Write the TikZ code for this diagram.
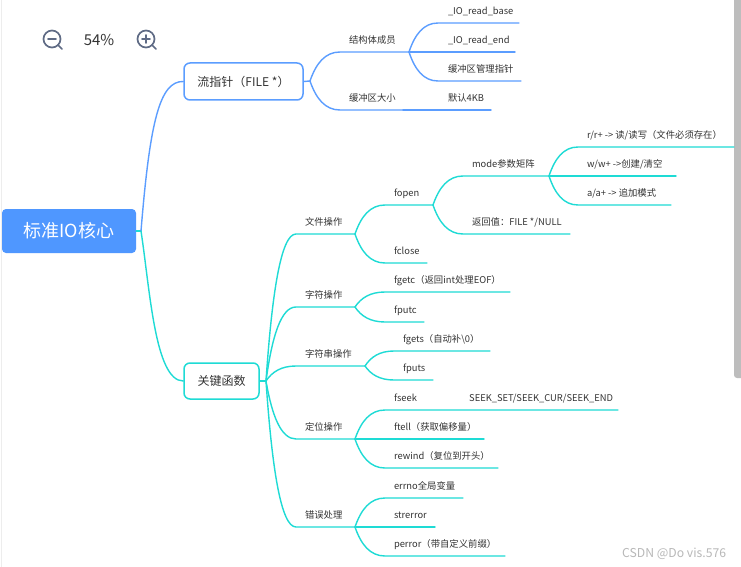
\documentclass[tikz,border=0pt]{standalone}
\usepackage{fontspec}
\setmainfont{Noto Sans CJK SC}
\usetikzlibrary{calc}
\definecolor{bl}{HTML}{5B9DFF}
\definecolor{te}{HTML}{1EDBD5}
\definecolor{rootc}{HTML}{4F97FF}
\definecolor{ink}{HTML}{333333}
\definecolor{icon}{HTML}{5F6B85}
\tikzset{
  x=1pt,y=-1pt,
  conn/.style={line width=1.4pt,line cap=round},
  topicbox/.style={rounded corners=6pt,line width=1.5pt,fill=white,text=ink,font=\fontsize{12}{14}\selectfont,inner sep=0pt,minimum height=37pt},
  leaf/.style={anchor=south west,inner sep=0pt,outer sep=0pt,minimum height=22pt,text=ink,font=\fontsize{9.35}{11}\selectfont},
  zoomicon/.style={draw=icon,line width=1.7pt,line cap=round},
}
% name, x0, x1, y of the underline, text offset, text
\newcommand{\tpc}[6]{\node[leaf,minimum width={#3-#2}] (#1) at (#2,#4) {\makebox[\dimexpr#3pt-#2pt\relax][l]{\hspace*{#5pt}\vphantom{国g}#6}};}
% colour, source point, target node: curve then underline
\newcommand{\lnk}[3]{%
  \coordinate (aa) at (#2);\coordinate (bb) at (#3.south west);
  \coordinate (c1x) at ($(aa)!.2!(bb)$);\coordinate (c1y) at ($(aa)!.6!(bb)$);
  \coordinate (c2x) at ($(aa)!.5!(bb)$);
  \draw[conn,#1] (aa) .. controls (c1x |- c1y) and (c2x |- bb) .. (bb) -- (#3.south east);}
\begin{document}
\begin{tikzpicture}
\useasboundingbox (0,0) rectangle (741,567);
\fill[white] (0,0) rectangle (741,567);
\draw[black!7,line width=1pt] (1,0) -- (1,567);
% zoom controls
\draw[zoomicon] (52,39) circle (8.5);
\draw[zoomicon] (58.5,45.5) -- (62,49);
\draw[zoomicon] (48,39) -- (56,39);
\node[text=ink,font=\fontsize{15}{17}\selectfont,inner sep=0pt] (pct) at (99,40.5) {54\%};
\draw[zoomicon] (146,39) circle (8.5);
\draw[zoomicon] (152.5,45.5) -- (156,49);
\draw[zoomicon] (142,39) -- (150,39) (146,35) -- (146,43);
% scrollbar
\fill[black!26,rounded corners=3pt] (734,-6) rectangle (747,378);
% main nodes
\node[fill=rootc,rounded corners=4pt,text=white,font=\fontsize{18}{20}\selectfont,inner sep=0pt,minimum width=134pt,minimum height=44pt] (root) at (69,231) {标准IO核心};
\node[topicbox,draw=bl,minimum width=119pt] (ptr) at (243.5,81.5) {流指针（FILE *）};
\node[topicbox,draw=te,minimum width=75pt,minimum height=36pt] (fn) at (221.5,381) {关键函数};
\coordinate (rootj) at (141,231);
\coordinate (ptrj) at (310,81);
\coordinate (fnj) at (266,381);
\draw[conn,bl] (root.east) -- (rootj);
\draw[conn,te] (root.east) -- (rootj);
\draw[conn,bl] (rootj) .. controls (150,120) and (160,81) .. (ptr.west);
\draw[conn,te] (rootj) .. controls (150,290) and (155,381) .. (fn.west);
\draw[conn,bl] (ptr.east) -- (ptrj);
\draw[conn,te] (fn.east) -- (fnj);
% blue branch
\tpc{st}{340}{409}{52}{9}{结构体成员}
\tpc{bs}{340}{403}{110}{9}{缓冲区大小}
\lnk{bl}{ptrj}{st}
\lnk{bl}{ptrj}{bs}
\tpc{ba}{438}{519}{23}{10}{\_IO\_read\_base}
\tpc{bb1}{438}{515}{52}{10}{\_IO\_read\_end}
\tpc{bc}{438}{521}{81}{10}{缓冲区管理指针}
\lnk{bl}{st.south east}{ba}
\lnk{bl}{st.south east}{bb1}
\lnk{bl}{st.south east}{bc}
\tpc{bd}{438}{491}{110}{10}{默认4KB}
\draw[conn,bl] (bs.south east) -- (bd.south west) -- (bd.south east);
% teal branch, level 2
\tpc{wj}{296}{355}{234}{9}{文件操作}
\tpc{zf}{296}{355}{307}{9}{字符操作}
\tpc{zc}{296}{365}{366}{9}{字符串操作}
\tpc{dw}{296}{355}{439}{9}{定位操作}
\tpc{cw}{296}{355}{527}{9}{错误处理}
\lnk{te}{fnj}{wj}
\lnk{te}{fnj}{zf}
\lnk{te}{fnj}{zc}
\lnk{te}{fnj}{dw}
\lnk{te}{fnj}{cw}
% file ops
\tpc{fo}{385}{433}{205}{9}{fopen}
\tpc{fc}{385}{427}{263}{9}{fclose}
\lnk{te}{wj.south east}{fo}
\lnk{te}{wj.south east}{fc}
\tpc{mo}{463}{549}{176}{9}{mode参数矩阵}
\tpc{rv}{463}{570}{234}{9}{返回值：FILE */NULL}
\lnk{te}{fo.south east}{mo}
\lnk{te}{fo.south east}{rv}
\tpc{ma}{578}{734}{147}{9}{r/r+ -> 读/读写（文件必须存在）}
\tpc{mb}{578}{676}{176}{9}{w/w+ ->创建/清空}
\tpc{mc}{578}{671}{205}{9}{a/a+ -> 追加模式}
\lnk{te}{mo.south east}{ma}
\lnk{te}{mo.south east}{mb}
\lnk{te}{mo.south east}{mc}
% char ops
\tpc{ga}{385}{510}{292}{9}{fgetc（返回int处理EOF）}
\tpc{gb}{385}{424}{322}{9}{fputc}
\lnk{te}{zf.south east}{ga}
\lnk{te}{zf.south east}{gb}
% string ops
\tpc{sa}{394}{490}{351}{9}{fgets（自动补\textbackslash0）}
\tpc{sb}{394}{433}{380}{9}{fputs}
\lnk{te}{zc.south east}{sa}
\lnk{te}{zc.south east}{sb}
% position ops
\tpc{pa}{385}{618}{410}{9}{fseek}
\node[text=ink,font=\fontsize{9.35}{11}\selectfont,inner sep=0pt,anchor=west] (pv) at (469,398.5) {SEEK\_SET/SEEK\_CUR/SEEK\_END};
\tpc{pb}{385}{484}{439}{9}{ftell（获取偏移量）}
\tpc{pc}{385}{498}{468}{9}{rewind（复位到开头）}
\lnk{te}{dw.south east}{pa}
\lnk{te}{dw.south east}{pb}
\lnk{te}{dw.south east}{pc}
% error handling
\tpc{ea}{385}{463}{498}{9}{errno全局变量}
\tpc{eb}{385}{435}{527}{9}{strerror}
\tpc{ec}{385}{505}{556}{9}{perror（带自定义前缀）}
\lnk{te}{cw.south east}{ea}
\lnk{te}{cw.south east}{eb}
\lnk{te}{cw.south east}{ec}
% watermark
\node[text=black!28,font=\fontsize{12.2}{14}\selectfont,inner sep=0pt,anchor=west] (wm) at (622,554) {CSDN @Do vis.576};
\end{tikzpicture}
\end{document}
